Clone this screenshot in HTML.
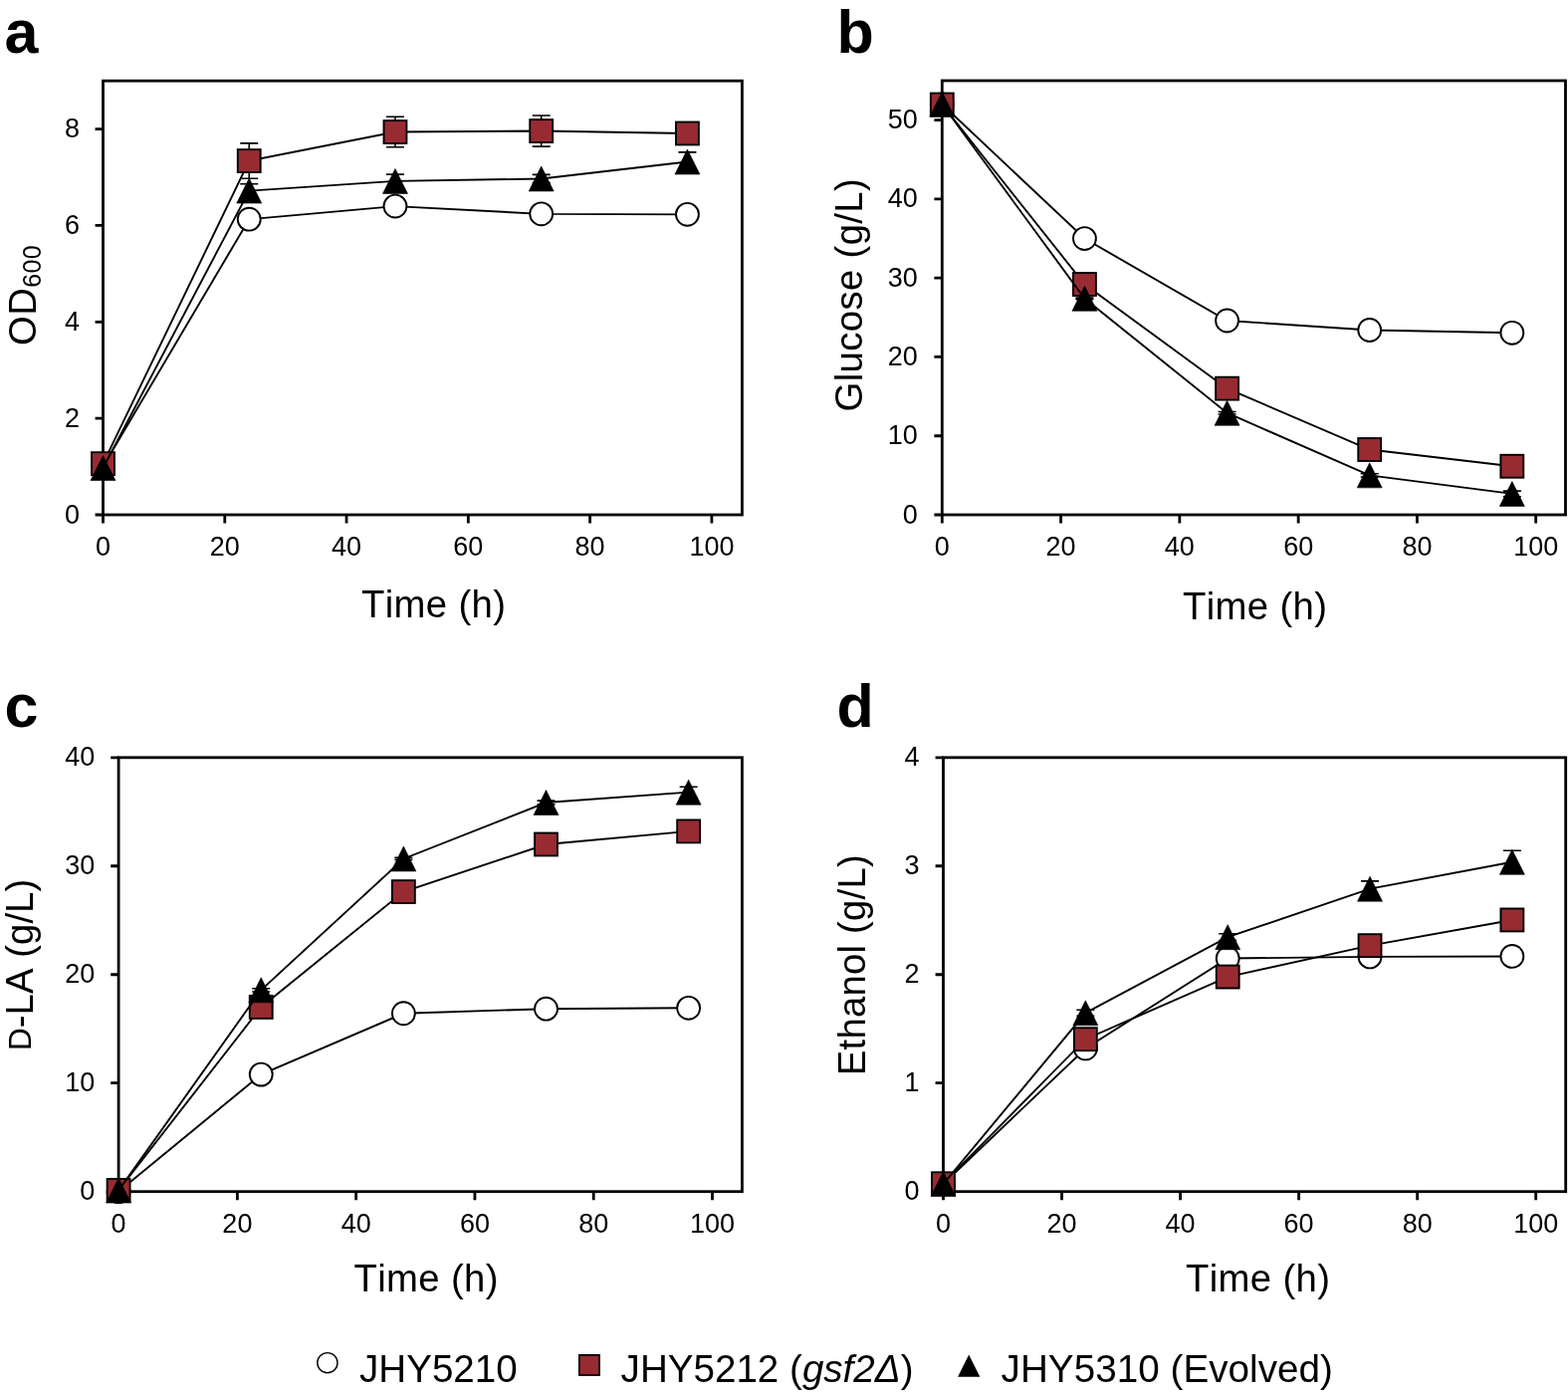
<!DOCTYPE html><html><head><meta charset="utf-8"><title>Figure</title><style>html,body{margin:0;padding:0;background:#fff;overflow:hidden;width:1575px;height:1401px;}svg{display:block;}text{font-kerning:none;}.tl{font-family:'Liberation Sans', Arial, sans-serif;font-size:27px;} .at{font-family:'Liberation Sans', Arial, sans-serif;font-size:38.3px;letter-spacing:0.35px;} .pl{font-family:'Liberation Sans', Arial, sans-serif;font-size:61px;font-weight:bold;} .lg{font-family:'Liberation Sans', Arial, sans-serif;font-size:38.6px;}</style></head><body>
<svg width="1575" height="1401" viewBox="0 0 1575 1401">
<rect width="1575" height="1401" fill="#fff"/>
<rect x="103.5" y="81.2" width="641.9" height="435.8" fill="none" stroke="#000" stroke-width="2.8"/>
<path d="M95.6 517H103.5M95.6 420.16H103.5M95.6 323.31H103.5M95.6 226.47H103.5M95.6 129.62H103.5M103.5 517V525.6M225.78 517V525.6M348.06 517V525.6M470.34 517V525.6M592.62 517V525.6M714.9 517V525.6" stroke="#000" stroke-width="2.8" fill="none"/>
<text transform="translate(79.9 525.5) scale(1 1.04)" class="tl" text-anchor="end">0</text>
<text transform="translate(79.9 428.66) scale(1 1.04)" class="tl" text-anchor="end">2</text>
<text transform="translate(79.9 331.81) scale(1 1.04)" class="tl" text-anchor="end">4</text>
<text transform="translate(79.9 234.97) scale(1 1.04)" class="tl" text-anchor="end">6</text>
<text transform="translate(79.9 138.12) scale(1 1.04)" class="tl" text-anchor="end">8</text>
<text transform="translate(103.5 558.1) scale(1 1.04)" class="tl" text-anchor="middle">0</text>
<text transform="translate(225.78 558.1) scale(1 1.04)" class="tl" text-anchor="middle">20</text>
<text transform="translate(348.06 558.1) scale(1 1.04)" class="tl" text-anchor="middle">40</text>
<text transform="translate(470.34 558.1) scale(1 1.04)" class="tl" text-anchor="middle">60</text>
<text transform="translate(592.62 558.1) scale(1 1.04)" class="tl" text-anchor="middle">80</text>
<text transform="translate(714.9 558.1) scale(1 1.04)" class="tl" text-anchor="middle">100</text>
<path d="M103.5 468.58 L250.24 220.17 L396.97 207.1 L543.71 214.85 L690.44 215.33" stroke="#000" stroke-width="1.9" fill="none"/>
<circle cx="103.5" cy="468.58" r="11.45" fill="#fff" stroke="#000" stroke-width="1.9"/>
<circle cx="250.24" cy="220.17" r="11.45" fill="#fff" stroke="#000" stroke-width="1.9"/>
<circle cx="396.97" cy="207.1" r="11.45" fill="#fff" stroke="#000" stroke-width="1.9"/>
<circle cx="543.71" cy="214.85" r="11.45" fill="#fff" stroke="#000" stroke-width="1.9"/>
<circle cx="690.44" cy="215.33" r="11.45" fill="#fff" stroke="#000" stroke-width="1.9"/>
<path d="M103.5 465.67 L250.24 161.58 L396.97 132.53 L543.71 131.56 L690.44 133.98" stroke="#000" stroke-width="1.9" fill="none"/>
<path d="M250.24 143.91V179.25M241.24 143.91h18M241.24 179.25h18" stroke="#000" stroke-width="1.6" fill="none"/>
<path d="M396.97 117.27V147.78M387.97 117.27h18M387.97 147.78h18" stroke="#000" stroke-width="1.6" fill="none"/>
<path d="M543.71 115.97V147.15M534.71 115.97h18M534.71 147.15h18" stroke="#000" stroke-width="1.6" fill="none"/>
<path d="M690.44 131.56V136.4M681.44 131.56h18M681.44 136.4h18" stroke="#000" stroke-width="1.6" fill="none"/>
<rect x="92.05" y="454.22" width="22.9" height="22.9" fill="#982b32" stroke="#000" stroke-width="1.9"/>
<rect x="238.79" y="150.13" width="22.9" height="22.9" fill="#982b32" stroke="#000" stroke-width="1.9"/>
<rect x="385.52" y="121.08" width="22.9" height="22.9" fill="#982b32" stroke="#000" stroke-width="1.9"/>
<rect x="532.26" y="120.11" width="22.9" height="22.9" fill="#982b32" stroke="#000" stroke-width="1.9"/>
<rect x="678.99" y="122.53" width="22.9" height="22.9" fill="#982b32" stroke="#000" stroke-width="1.9"/>
<path d="M103.5 470.03 L250.24 191.6 L396.97 181.92 L543.71 179.5 L690.44 162.55" stroke="#000" stroke-width="1.9" fill="none"/>
<path d="M250.24 184.82V198.38M241.24 184.82h18M241.24 198.38h18" stroke="#000" stroke-width="1.6" fill="none"/>
<path d="M396.97 175.14V188.7M387.97 175.14h18M387.97 188.7h18" stroke="#000" stroke-width="1.6" fill="none"/>
<path d="M543.71 175.38V183.61M534.71 175.38h18M534.71 183.61h18" stroke="#000" stroke-width="1.6" fill="none"/>
<path d="M690.44 152.86V172.23M681.44 152.86h18M681.44 172.23h18" stroke="#000" stroke-width="1.6" fill="none"/>
<path d="M103.5 457.53L116 482.53H91Z" fill="#000" stroke="#000" stroke-width="0.6" stroke-linejoin="miter"/>
<path d="M250.24 179.1L262.74 204.1H237.74Z" fill="#000" stroke="#000" stroke-width="0.6" stroke-linejoin="miter"/>
<path d="M396.97 169.42L409.47 194.42H384.47Z" fill="#000" stroke="#000" stroke-width="0.6" stroke-linejoin="miter"/>
<path d="M543.71 167L556.21 192H531.21Z" fill="#000" stroke="#000" stroke-width="0.6" stroke-linejoin="miter"/>
<path d="M690.44 150.05L702.94 175.05H677.94Z" fill="#000" stroke="#000" stroke-width="0.6" stroke-linejoin="miter"/>
<rect x="946.3" y="81" width="626.2" height="436" fill="none" stroke="#000" stroke-width="2.8"/>
<path d="M938.4 517H946.3M938.4 437.73H946.3M938.4 358.45H946.3M938.4 279.18H946.3M938.4 199.91H946.3M938.4 120.64H946.3M946.3 517V525.6M1065.58 517V525.6M1184.86 517V525.6M1304.14 517V525.6M1423.42 517V525.6M1542.7 517V525.6" stroke="#000" stroke-width="2.8" fill="none"/>
<text transform="translate(921.8 525.5) scale(1 1.04)" class="tl" text-anchor="end">0</text>
<text transform="translate(921.8 446.23) scale(1 1.04)" class="tl" text-anchor="end">10</text>
<text transform="translate(921.8 366.95) scale(1 1.04)" class="tl" text-anchor="end">20</text>
<text transform="translate(921.8 287.68) scale(1 1.04)" class="tl" text-anchor="end">30</text>
<text transform="translate(921.8 208.41) scale(1 1.04)" class="tl" text-anchor="end">40</text>
<text transform="translate(921.8 129.14) scale(1 1.04)" class="tl" text-anchor="end">50</text>
<text transform="translate(946.3 557.9) scale(1 1.04)" class="tl" text-anchor="middle">0</text>
<text transform="translate(1065.58 557.9) scale(1 1.04)" class="tl" text-anchor="middle">20</text>
<text transform="translate(1184.86 557.9) scale(1 1.04)" class="tl" text-anchor="middle">40</text>
<text transform="translate(1304.14 557.9) scale(1 1.04)" class="tl" text-anchor="middle">60</text>
<text transform="translate(1423.42 557.9) scale(1 1.04)" class="tl" text-anchor="middle">80</text>
<text transform="translate(1542.7 557.9) scale(1 1.04)" class="tl" text-anchor="middle">100</text>
<path d="M946.3 104.78 L1089.44 239.55 L1232.57 321.99 L1375.71 331.5 L1518.84 334.28" stroke="#000" stroke-width="1.9" fill="none"/>
<circle cx="946.3" cy="104.78" r="11.45" fill="#fff" stroke="#000" stroke-width="1.9"/>
<circle cx="1089.44" cy="239.55" r="11.45" fill="#fff" stroke="#000" stroke-width="1.9"/>
<circle cx="1232.57" cy="321.99" r="11.45" fill="#fff" stroke="#000" stroke-width="1.9"/>
<circle cx="1375.71" cy="331.5" r="11.45" fill="#fff" stroke="#000" stroke-width="1.9"/>
<circle cx="1518.84" cy="334.28" r="11.45" fill="#fff" stroke="#000" stroke-width="1.9"/>
<path d="M946.3 105.02 L1089.44 285.52 L1232.57 390.16 L1375.71 451.52 L1518.84 468.25" stroke="#000" stroke-width="1.9" fill="none"/>
<rect x="934.85" y="93.57" width="22.9" height="22.9" fill="#982b32" stroke="#000" stroke-width="1.9"/>
<rect x="1077.99" y="274.07" width="22.9" height="22.9" fill="#982b32" stroke="#000" stroke-width="1.9"/>
<rect x="1221.12" y="378.71" width="22.9" height="22.9" fill="#982b32" stroke="#000" stroke-width="1.9"/>
<rect x="1364.26" y="440.07" width="22.9" height="22.9" fill="#982b32" stroke="#000" stroke-width="1.9"/>
<rect x="1507.39" y="456.8" width="22.9" height="22.9" fill="#982b32" stroke="#000" stroke-width="1.9"/>
<path d="M946.3 104.78 L1089.44 299.79 L1232.57 414.74 L1375.71 477.36 L1518.84 495.91" stroke="#000" stroke-width="1.9" fill="none"/>
<path d="M1089.44 299V300.59M1080.44 299h18M1080.44 300.59h18" stroke="#000" stroke-width="1.6" fill="none"/>
<path d="M1232.57 413.55V415.93M1223.57 413.55h18M1223.57 415.93h18" stroke="#000" stroke-width="1.6" fill="none"/>
<path d="M1375.71 475.78V478.95M1366.71 475.78h18M1366.71 478.95h18" stroke="#000" stroke-width="1.6" fill="none"/>
<path d="M1518.84 493.14V498.69M1509.84 493.14h18M1509.84 498.69h18" stroke="#000" stroke-width="1.6" fill="none"/>
<path d="M946.3 92.28L958.8 117.28H933.8Z" fill="#000" stroke="#000" stroke-width="0.6" stroke-linejoin="miter"/>
<path d="M1089.44 287.29L1101.94 312.29H1076.94Z" fill="#000" stroke="#000" stroke-width="0.6" stroke-linejoin="miter"/>
<path d="M1232.57 402.24L1245.07 427.24H1220.07Z" fill="#000" stroke="#000" stroke-width="0.6" stroke-linejoin="miter"/>
<path d="M1375.71 464.86L1388.21 489.86H1363.21Z" fill="#000" stroke="#000" stroke-width="0.6" stroke-linejoin="miter"/>
<path d="M1518.84 483.41L1531.34 508.41H1506.34Z" fill="#000" stroke="#000" stroke-width="0.6" stroke-linejoin="miter"/>
<rect x="119.1" y="760.8" width="626.3" height="435.9" fill="none" stroke="#000" stroke-width="2.8"/>
<path d="M111.2 1196.7H119.1M111.2 1087.72H119.1M111.2 978.75H119.1M111.2 869.77H119.1M111.2 760.8H119.1M119.1 1196.7V1205.3M238.38 1196.7V1205.3M357.66 1196.7V1205.3M476.94 1196.7V1205.3M596.22 1196.7V1205.3M715.5 1196.7V1205.3" stroke="#000" stroke-width="2.8" fill="none"/>
<text transform="translate(95.3 1205.2) scale(1 1.04)" class="tl" text-anchor="end">0</text>
<text transform="translate(95.3 1096.22) scale(1 1.04)" class="tl" text-anchor="end">10</text>
<text transform="translate(95.3 987.25) scale(1 1.04)" class="tl" text-anchor="end">20</text>
<text transform="translate(95.3 878.27) scale(1 1.04)" class="tl" text-anchor="end">30</text>
<text transform="translate(95.3 769.3) scale(1 1.04)" class="tl" text-anchor="end">40</text>
<text transform="translate(119.1 1237.5) scale(1 1.04)" class="tl" text-anchor="middle">0</text>
<text transform="translate(238.38 1237.5) scale(1 1.04)" class="tl" text-anchor="middle">20</text>
<text transform="translate(357.66 1237.5) scale(1 1.04)" class="tl" text-anchor="middle">40</text>
<text transform="translate(476.94 1237.5) scale(1 1.04)" class="tl" text-anchor="middle">60</text>
<text transform="translate(596.22 1237.5) scale(1 1.04)" class="tl" text-anchor="middle">80</text>
<text transform="translate(715.5 1237.5) scale(1 1.04)" class="tl" text-anchor="middle">100</text>
<path d="M119.1 1196.7 L262.24 1079.12 L405.37 1017.76 L548.51 1013.19 L691.64 1012.31" stroke="#000" stroke-width="1.9" fill="none"/>
<circle cx="119.1" cy="1196.7" r="11.45" fill="#fff" stroke="#000" stroke-width="1.9"/>
<circle cx="262.24" cy="1079.12" r="11.45" fill="#fff" stroke="#000" stroke-width="1.9"/>
<circle cx="405.37" cy="1017.76" r="11.45" fill="#fff" stroke="#000" stroke-width="1.9"/>
<circle cx="548.51" cy="1013.19" r="11.45" fill="#fff" stroke="#000" stroke-width="1.9"/>
<circle cx="691.64" cy="1012.31" r="11.45" fill="#fff" stroke="#000" stroke-width="1.9"/>
<path d="M119.1 1195.39 L262.24 1011.44 L405.37 895.6 L548.51 847.98 L691.64 834.9" stroke="#000" stroke-width="1.9" fill="none"/>
<rect x="107.65" y="1183.94" width="22.9" height="22.9" fill="#982b32" stroke="#000" stroke-width="1.9"/>
<rect x="250.79" y="999.99" width="22.9" height="22.9" fill="#982b32" stroke="#000" stroke-width="1.9"/>
<rect x="393.92" y="884.15" width="22.9" height="22.9" fill="#982b32" stroke="#000" stroke-width="1.9"/>
<rect x="537.06" y="836.53" width="22.9" height="22.9" fill="#982b32" stroke="#000" stroke-width="1.9"/>
<rect x="680.19" y="823.45" width="22.9" height="22.9" fill="#982b32" stroke="#000" stroke-width="1.9"/>
<path d="M119.1 1195.61 L262.24 994.33 L405.37 862.47 L548.51 806.02 L691.64 795.67" stroke="#000" stroke-width="1.9" fill="none"/>
<path d="M262.24 992.7V995.97M253.24 992.7h18M253.24 995.97h18" stroke="#000" stroke-width="1.6" fill="none"/>
<path d="M405.37 861.38V863.56M396.37 861.38h18M396.37 863.56h18" stroke="#000" stroke-width="1.6" fill="none"/>
<path d="M548.51 804.17V807.88M539.51 804.17h18M539.51 807.88h18" stroke="#000" stroke-width="1.6" fill="none"/>
<path d="M691.64 790.22V801.12M682.64 790.22h18M682.64 801.12h18" stroke="#000" stroke-width="1.6" fill="none"/>
<path d="M119.1 1183.11L131.6 1208.11H106.6Z" fill="#000" stroke="#000" stroke-width="0.6" stroke-linejoin="miter"/>
<path d="M262.24 981.83L274.74 1006.83H249.74Z" fill="#000" stroke="#000" stroke-width="0.6" stroke-linejoin="miter"/>
<path d="M405.37 849.97L417.87 874.97H392.87Z" fill="#000" stroke="#000" stroke-width="0.6" stroke-linejoin="miter"/>
<path d="M548.51 793.52L561.01 818.52H536.01Z" fill="#000" stroke="#000" stroke-width="0.6" stroke-linejoin="miter"/>
<path d="M691.64 783.17L704.14 808.17H679.14Z" fill="#000" stroke="#000" stroke-width="0.6" stroke-linejoin="miter"/>
<rect x="947.5" y="760.8" width="625.2" height="435.9" fill="none" stroke="#000" stroke-width="2.8"/>
<path d="M939.6 1196.7H947.5M939.6 1087.72H947.5M939.6 978.75H947.5M939.6 869.77H947.5M939.6 760.8H947.5M947.5 1196.7V1205.3M1066.54 1196.7V1205.3M1185.58 1196.7V1205.3M1304.62 1196.7V1205.3M1423.66 1196.7V1205.3M1542.7 1196.7V1205.3" stroke="#000" stroke-width="2.8" fill="none"/>
<text transform="translate(923.5 1205.2) scale(1 1.04)" class="tl" text-anchor="end">0</text>
<text transform="translate(923.5 1096.22) scale(1 1.04)" class="tl" text-anchor="end">1</text>
<text transform="translate(923.5 987.25) scale(1 1.04)" class="tl" text-anchor="end">2</text>
<text transform="translate(923.5 878.27) scale(1 1.04)" class="tl" text-anchor="end">3</text>
<text transform="translate(923.5 769.3) scale(1 1.04)" class="tl" text-anchor="end">4</text>
<text transform="translate(947.5 1237.5) scale(1 1.04)" class="tl" text-anchor="middle">0</text>
<text transform="translate(1066.54 1237.5) scale(1 1.04)" class="tl" text-anchor="middle">20</text>
<text transform="translate(1185.58 1237.5) scale(1 1.04)" class="tl" text-anchor="middle">40</text>
<text transform="translate(1304.62 1237.5) scale(1 1.04)" class="tl" text-anchor="middle">60</text>
<text transform="translate(1423.66 1237.5) scale(1 1.04)" class="tl" text-anchor="middle">80</text>
<text transform="translate(1542.7 1237.5) scale(1 1.04)" class="tl" text-anchor="middle">100</text>
<path d="M947.5 1189.07 L1090.35 1052.96 L1233.2 962.51 L1376.04 960.88 L1518.89 960.44" stroke="#000" stroke-width="1.9" fill="none"/>
<circle cx="947.5" cy="1189.07" r="11.45" fill="#fff" stroke="#000" stroke-width="1.9"/>
<circle cx="1090.35" cy="1052.96" r="11.45" fill="#fff" stroke="#000" stroke-width="1.9"/>
<circle cx="1233.2" cy="962.51" r="11.45" fill="#fff" stroke="#000" stroke-width="1.9"/>
<circle cx="1376.04" cy="960.88" r="11.45" fill="#fff" stroke="#000" stroke-width="1.9"/>
<circle cx="1518.89" cy="960.44" r="11.45" fill="#fff" stroke="#000" stroke-width="1.9"/>
<path d="M947.5 1188.74 L1090.35 1043.7 L1233.2 981.04 L1376.04 949.65 L1518.89 923.94" stroke="#000" stroke-width="1.9" fill="none"/>
<rect x="936.05" y="1177.29" width="22.9" height="22.9" fill="#982b32" stroke="#000" stroke-width="1.9"/>
<rect x="1078.9" y="1032.25" width="22.9" height="22.9" fill="#982b32" stroke="#000" stroke-width="1.9"/>
<rect x="1221.75" y="969.59" width="22.9" height="22.9" fill="#982b32" stroke="#000" stroke-width="1.9"/>
<rect x="1364.59" y="938.2" width="22.9" height="22.9" fill="#982b32" stroke="#000" stroke-width="1.9"/>
<rect x="1507.44" y="912.49" width="22.9" height="22.9" fill="#982b32" stroke="#000" stroke-width="1.9"/>
<path d="M947.5 1189.07 L1090.35 1017.33 L1233.2 941.15 L1376.04 892.66 L1518.89 865.74" stroke="#000" stroke-width="1.9" fill="none"/>
<path d="M1090.35 1014.28V1020.38M1081.35 1014.28h18M1081.35 1020.38h18" stroke="#000" stroke-width="1.6" fill="none"/>
<path d="M1233.2 937.78V944.53M1224.2 937.78h18M1224.2 944.53h18" stroke="#000" stroke-width="1.6" fill="none"/>
<path d="M1376.04 884.92V900.4M1367.04 884.92h18M1367.04 900.4h18" stroke="#000" stroke-width="1.6" fill="none"/>
<path d="M1518.89 854.3V877.19M1509.89 854.3h18M1509.89 877.19h18" stroke="#000" stroke-width="1.6" fill="none"/>
<path d="M947.5 1176.57L960 1201.57H935Z" fill="#000" stroke="#000" stroke-width="0.6" stroke-linejoin="miter"/>
<path d="M1090.35 1004.83L1102.85 1029.83H1077.85Z" fill="#000" stroke="#000" stroke-width="0.6" stroke-linejoin="miter"/>
<path d="M1233.2 928.65L1245.7 953.65H1220.7Z" fill="#000" stroke="#000" stroke-width="0.6" stroke-linejoin="miter"/>
<path d="M1376.04 880.16L1388.54 905.16H1363.54Z" fill="#000" stroke="#000" stroke-width="0.6" stroke-linejoin="miter"/>
<path d="M1518.89 853.24L1531.39 878.24H1506.39Z" fill="#000" stroke="#000" stroke-width="0.6" stroke-linejoin="miter"/>
<text x="4.5" y="52.8" class="pl">a</text>
<text x="840.5" y="52.8" class="pl">b</text>
<text x="4.5" y="730" class="pl">c</text>
<text x="840.5" y="729.7" class="pl">d</text>
<text x="363" y="620" class="at">Time (h)</text>
<text x="1188" y="621.7" class="at">Time (h)</text>
<text x="355.5" y="1297.1" class="at">Time (h)</text>
<text x="1191" y="1297.1" class="at">Time (h)</text>
<text transform="translate(36 347) rotate(-90)" class="at">OD<tspan font-size="25" dy="5">600</tspan></text>
<text transform="translate(865.7 413.4) rotate(-90)" class="at">Glucose (g/L)</text>
<text transform="translate(33 1055) rotate(-90)" class="at" style="letter-spacing:0.05px"><tspan style="font-size:31.5px" dy="-2.3">D</tspan><tspan dy="2.3">-LA (g/L)</tspan></text>
<text transform="translate(869 1080.2) rotate(-90)" class="at" style="letter-spacing:0.22px">Ethanol (g/L)</text>
<circle cx="328.9" cy="1368.7" r="10.1" fill="#fff" stroke="#000" stroke-width="1.4"/>
<text x="361" y="1388.3" class="lg">JHY5210</text>
<rect x="581.85" y="1360.85" width="20.2" height="20.2" fill="#982b32" stroke="#000" stroke-width="1.7"/>
<text x="623.6" y="1388.3" class="lg">JHY5212 (<tspan font-style="italic">gsf2Δ</tspan>)</text>
<path d="M973.2 1360.5L984.3 1382.7H962.1Z" fill="#000"/>
<text x="1005.6" y="1388.3" class="lg" style="letter-spacing:0.06px">JHY5310 (Evolved)</text>
</svg></body></html>
